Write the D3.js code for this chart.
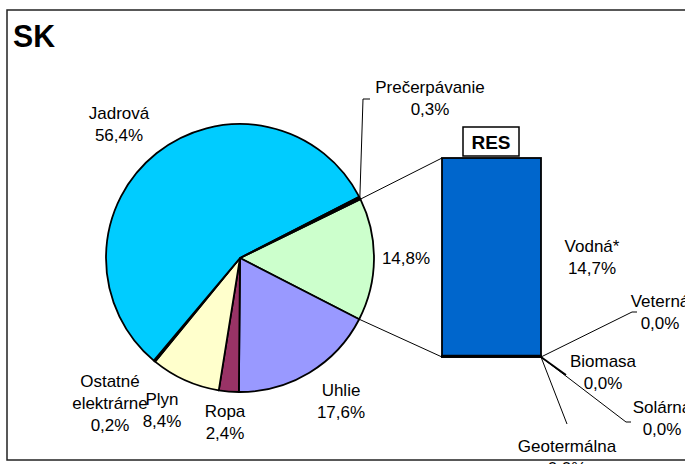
<!DOCTYPE html>
<html>
<head>
<meta charset="utf-8">
<script src="https://cdn.jsdelivr.net/npm/d3@7"></script>
<style>
  body { margin: 0; background: #fff; }
  text { font-family: Arial, "Liberation Sans", sans-serif; }
</style>
</head>
<body>
<div id="chart"></div>
<script>
// pie slices, clockwise starting from the RES slice
var pieNames = ["RES", "Uhlie", "Ropa", "Plyn", "Ostatné elektrárne", "Jadrová", "Prečerpávanie"];
var pieValues = [14.8, 17.6, 2.4, 8.4, 0.2, 56.4, 0.3];
var pieLabels = ["14,8%", "17,6%", "2,4%", "8,4%", "0,2%", "56,4%", "0,3%"];
var pieColors = ["#CCFFCC", "#9999FF", "#993366", "#FFFFCC", "#000000", "#00CCFF", "#000000"];

// RES bar, stacked bottom to top
var barNames = ["Geotermálna", "Solárna", "Biomasa", "Veterná", "Vodná*"];
var barValues = [0.02, 0.01, 0.04, 0.03, 14.7];
var barLabels = ["0,0%", "0,0%", "0,0%", "0,0%", "14,7%"];
var barColors = ["#000000", "#000000", "#000000", "#000000", "#0066CC"];

var W = 685, H = 464;
var svg = d3.select("#chart").append("svg")
    .attr("width", W).attr("height", H);

// frame
svg.append("rect")
    .attr("x", 7).attr("y", 10).attr("width", 720).attr("height", 450)
    .attr("fill", "#fff").attr("stroke", "#222").attr("stroke-width", 1.5);

svg.append("text")
    .attr("x", 13).attr("y", 47)
    .attr("font-size", 31).attr("font-weight", "bold")
    .attr("textLength", 42).attr("lengthAdjust", "spacingAndGlyphs")
    .text("SK");

// pie
var cx = 240, cy = 258, r = 134;
var total = d3.sum(pieValues);
var resHalf = pieValues[0] / total * Math.PI;
var start = Math.PI / 2 + 0.01 - resHalf;

var pie = d3.pie().sort(null)
    .startAngle(start).endAngle(start + 2 * Math.PI);
var arcs = pie(pieValues);
var arc = d3.arc().innerRadius(0).outerRadius(r);

var g = svg.append("g").attr("transform", "translate(" + cx + "," + cy + ")");
g.selectAll("path")
    .data(arcs)
    .join("path")
    .attr("d", arc)
    .attr("fill", function (d, i) { return pieColors[i]; })
    .attr("stroke", "#000")
    .attr("stroke-width", 1.8)
    .attr("stroke-linejoin", "round");

// bar
var bx0 = 442, bx1 = 541, byTop = 158, byBot = 357;
var barY = d3.scaleLinear().domain([0, d3.sum(barValues)]).range([byBot, byTop]);
var stacked = [];
var acc = 0;
barValues.forEach(function (v, i) { stacked.push({y0: acc, y1: acc + v, i: i}); acc += v; });

svg.append("g").selectAll("rect")
    .data(stacked)
    .join("rect")
    .attr("x", bx0)
    .attr("width", bx1 - bx0)
    .attr("y", function (d) { return barY(d.y1); })
    .attr("height", function (d) { return barY(d.y0) - barY(d.y1); })
    .attr("fill", function (d) { return barColors[d.i]; })
    .attr("stroke", "#000")
    .attr("stroke-width", 1.8);

// connector lines from RES slice to bar
function edge(a) { return [cx + r * Math.sin(a), cy - r * Math.cos(a)]; }
var p1 = edge(arcs[0].startAngle), p2 = edge(arcs[0].endAngle);
var lines = svg.append("g").attr("stroke", "#000").attr("stroke-width", 1).attr("fill", "none");
lines.append("line").attr("x1", p1[0]).attr("y1", p1[1]).attr("x2", bx0).attr("y2", byTop);
lines.append("line").attr("x1", p2[0]).attr("y1", p2[1]).attr("x2", bx0).attr("y2", byBot);

// RES box
svg.append("rect").attr("x", 463).attr("y", 127).attr("width", 56).attr("height", 29)
    .attr("fill", "#fff").attr("stroke", "#000").attr("stroke-width", 1.5);
svg.append("text").attr("x", 491).attr("y", 149).attr("text-anchor", "middle")
    .attr("font-size", 19).attr("font-weight", "bold").text("RES");

// leader lines for labels
var leader = d3.line();
var pr = edge(arcs[6].startAngle + (arcs[6].endAngle - arcs[6].startAngle) / 2);
lines.append("path").attr("d", leader([[pr[0], pr[1]], [363, 99], [370, 99]]));
var corner = [bx1, byBot];
lines.append("path").attr("d", leader([corner, [632, 312], [637, 312]]));
lines.append("path").attr("d", leader([corner, [566, 375]])).attr("stroke-width", 1.8);
lines.append("path").attr("d", leader([corner, [626, 422], [631, 422]]));
lines.append("path").attr("d", leader([corner, [567, 424]]));

// labels: [name, value text, x, baseline]
function label(name, val, x, y) {
    var t = svg.append("text").attr("font-size", 17).attr("text-anchor", "middle").attr("fill", "#000");
    var lines = name ? name.split("\n") : [];
    lines.forEach(function (s, k) {
        t.append("tspan").attr("x", x).attr("y", y + k * 22).text(s);
    });
    t.append("tspan").attr("x", x).attr("y", y + lines.length * 22).text(val);
}
label("Jadrová", pieLabels[5], 119, 119);
label("Prečerpávanie", pieLabels[6], 430, 93);
label("", pieLabels[0], 406, 264);
label("Uhlie", pieLabels[1], 341, 396);
label("Ropa", pieLabels[2], 225, 417);
label("Plyn", pieLabels[3], 162, 405);
label("Ostatné\nelektrárne", pieLabels[4], 110, 387);
label(barNames[4], barLabels[4], 592, 252);
label(barNames[3], barLabels[3], 660, 307);
label(barNames[2], barLabels[2], 603, 367);
label(barNames[1], barLabels[1], 662, 413);
label(barNames[0], barLabels[0], 567, 452);
</script>
</body>
</html>
